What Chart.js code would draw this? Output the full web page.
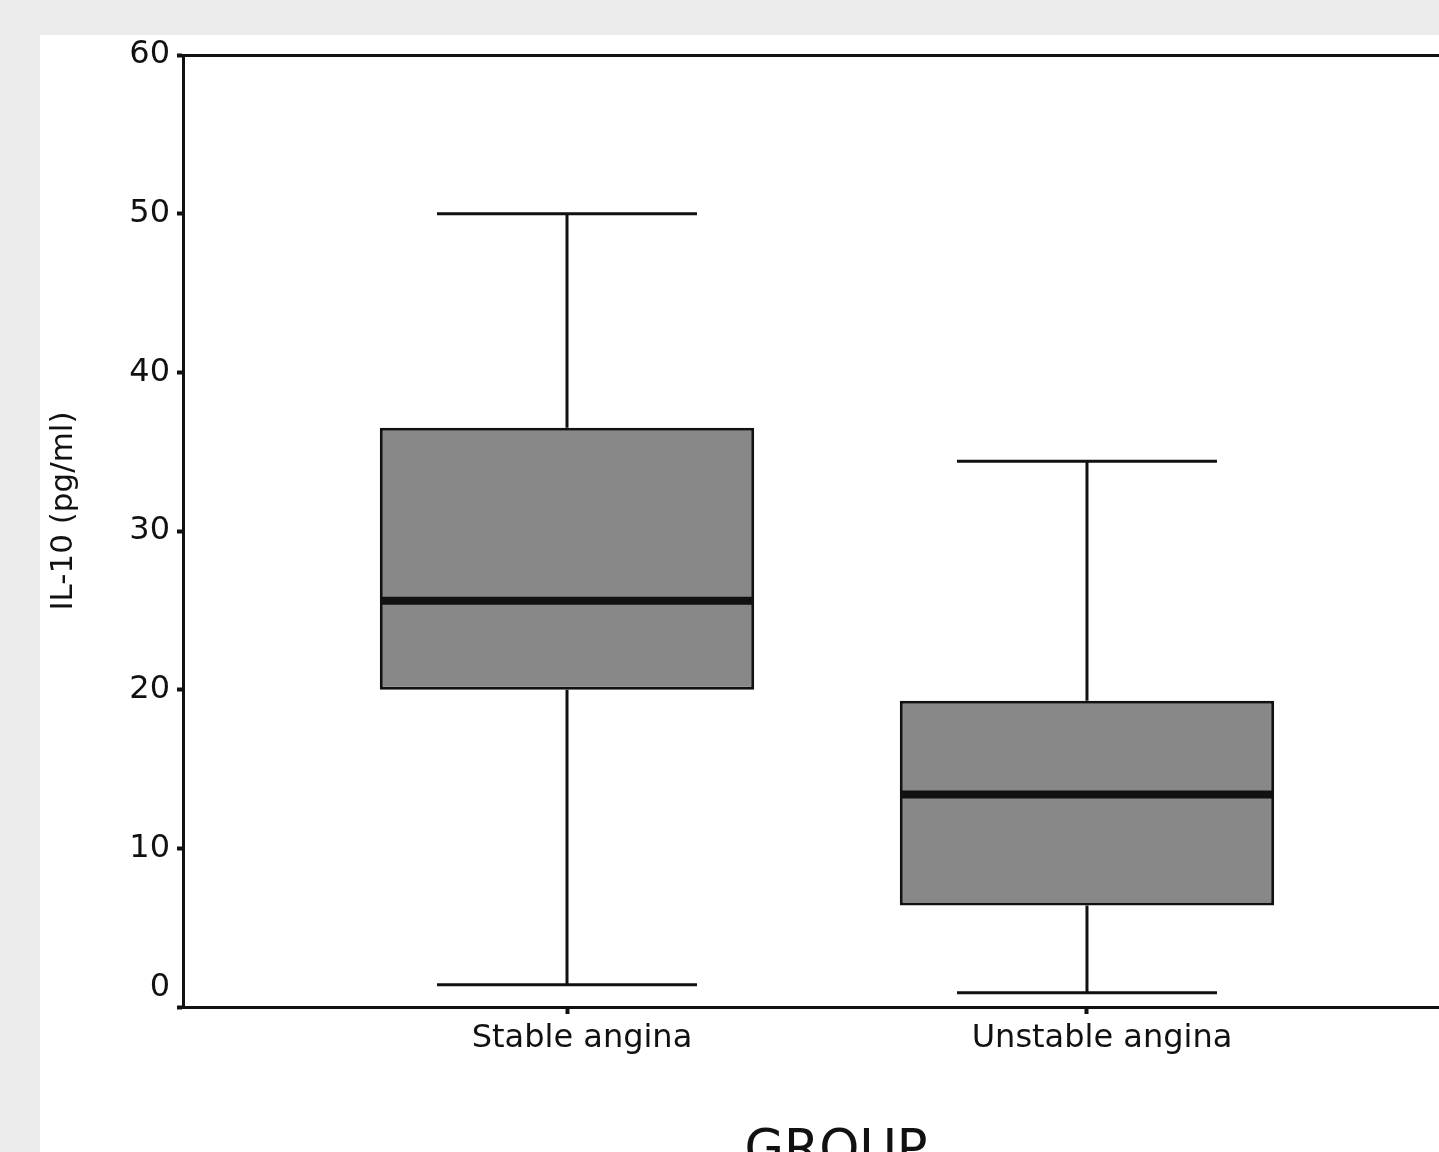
<!DOCTYPE html>
<html>
<head>
<meta charset="utf-8">
<title>IL-10 by group</title>
<script src="https://cdn.jsdelivr.net/npm/chart.js@4.4.1/dist/chart.umd.min.js"></script>
<style>
  html, body { margin: 0; padding: 0; background: #ebebeb; overflow: hidden; }
  body { width: 1439px; height: 1152px; position: relative; }
  #panel { position: absolute; left: 40px; top: 35px; width: 1399px; height: 1200px; background: #fff; }
</style>
</head>
<body>
<div id="panel"><canvas id="chart"></canvas></div>
<script>
  // box plot values (pg/ml)
  const GROUPS = ["Stable angina", "Unstable angina"];
  const WHISKER_LOW = [1.4, 0.9];
  const Q1 = [20.0, 6.4];
  const MEDIAN = [25.6, 13.4];
  const Q3 = [36.5, 19.3];
  const WHISKER_HIGH = [50.0, 34.4];
  const Y_TICKS = [0, 10, 20, 30, 40, 50, 60];

  const FONT = "'DejaVu Sans', sans-serif";
  const INK = "#111";
  const BOX_FILL = "#888888";
  const CAP_HALF = 0.25; // whisker cap half-width in x units

  const boxPlugin = {
    id: "boxWhiskers",
    beforeDatasetsDraw(chart) {
      const { ctx, scales: { x, y } } = chart;
      ctx.save();
      ctx.strokeStyle = INK;
      ctx.lineWidth = 3;
      GROUPS.forEach((g, i) => {
        const cx = x.getPixelForValue(i + 1);
        const half = x.getPixelForValue(i + 1 + CAP_HALF) - cx;
        ctx.beginPath();
        ctx.moveTo(cx, y.getPixelForValue(WHISKER_LOW[i]));
        ctx.lineTo(cx, y.getPixelForValue(Q1[i]));
        ctx.moveTo(cx, y.getPixelForValue(Q3[i]));
        ctx.lineTo(cx, y.getPixelForValue(WHISKER_HIGH[i]));
        [WHISKER_LOW[i], WHISKER_HIGH[i]].forEach((v) => {
          const py = y.getPixelForValue(v);
          ctx.moveTo(cx - half, py);
          ctx.lineTo(cx + half, py);
        });
        ctx.stroke();
      });
      ctx.restore();
    },
    afterDatasetsDraw(chart) {
      const { ctx, scales: { y } } = chart;
      const meta = chart.getDatasetMeta(0);
      ctx.save();
      ctx.strokeStyle = INK;
      ctx.lineWidth = 8;
      meta.data.forEach((bar, i) => {
        const py = y.getPixelForValue(MEDIAN[i]);
        ctx.beginPath();
        ctx.moveTo(bar.x - bar.width / 2 + 2, py);
        ctx.lineTo(bar.x + bar.width / 2 - 2, py);
        ctx.stroke();
      });
      ctx.restore();
    },
    afterDraw(chart) {
      const { ctx, chartArea: a } = chart;
      ctx.save();
      ctx.fillStyle = INK;
      // y axis title
      ctx.translate(24, (a.top + a.bottom) / 2 - 20);
      ctx.rotate(-Math.PI / 2);
      ctx.font = "31px " + FONT;
      ctx.textAlign = "center";
      ctx.textBaseline = "middle";
      ctx.fillText("IL-10 (pg/ml)", 0, 0);
      ctx.restore();
      // x axis title (cut off by the page edge)
      ctx.save();
      ctx.fillStyle = INK;
      ctx.font = "51px " + FONT;
      ctx.textAlign = "center";
      ctx.textBaseline = "alphabetic";
      ctx.fillText("GROUP", a.left + 653, a.bottom + 159);
      ctx.restore();
    }
  };

  new Chart(document.getElementById("chart"), {
    type: "bar",
    data: {
      datasets: [{
        data: GROUPS.map((g, i) => ({ x: i + 1, y: [Q1[i], Q3[i]] })),
        backgroundColor: BOX_FILL,
        borderColor: INK,
        borderWidth: 3,
        borderSkipped: false,
        barPercentage: 0.9,
        categoryPercentage: 0.8
      }]
    },
    options: {
      responsive: true,
      maintainAspectRatio: false,
      animation: false,
      layout: { padding: { top: 20, right: 0, bottom: 0, left: 0 } },
      plugins: {
        legend: { display: false },
        tooltip: { enabled: false }
      },
      scales: {
        x: {
          type: "linear",
          offset: false,
          min: 0.2615,
          max: 2.677,
          afterBuildTicks: (s) => { s.ticks = GROUPS.map((g, i) => ({ value: i + 1 })); },
          afterFit: (s) => { s.height = 228; },
          grid: { offset: false, drawOnChartArea: false, drawTicks: true, tickLength: 7, tickWidth: 4, tickColor: INK },
          border: { color: INK, width: 3 },
          ticks: {
            callback: (v, i) => GROUPS[i],
            labelOffset: 15,
            padding: 5,
            autoSkip: false,
            maxRotation: 0,
            color: INK,
            font: { family: FONT, size: 32 }
          }
        },
        y: {
          min: 0,
          max: 60,
          afterBuildTicks: (s) => { s.ticks = Y_TICKS.map((v) => ({ value: v })); },
          afterFit: (s) => { s.width = 143; s.paddingTop = 0; s.paddingBottom = 0; },
          grid: {
            color: (c) => (c.tick && c.tick.value === 60 ? INK : "rgba(0,0,0,0)"),
            lineWidth: 3,
            drawTicks: true,
            tickLength: 6,
            tickWidth: 4,
            tickColor: INK
          },
          border: { color: INK, width: 3 },
          ticks: {
            callback: (v) => (v === 0 ? ["0", ""] : String(v)),
            padding: 7,
            color: INK,
            font: { family: FONT, size: 32 }
          }
        }
      }
    },
    plugins: [boxPlugin]
  });
</script>
</body>
</html>
